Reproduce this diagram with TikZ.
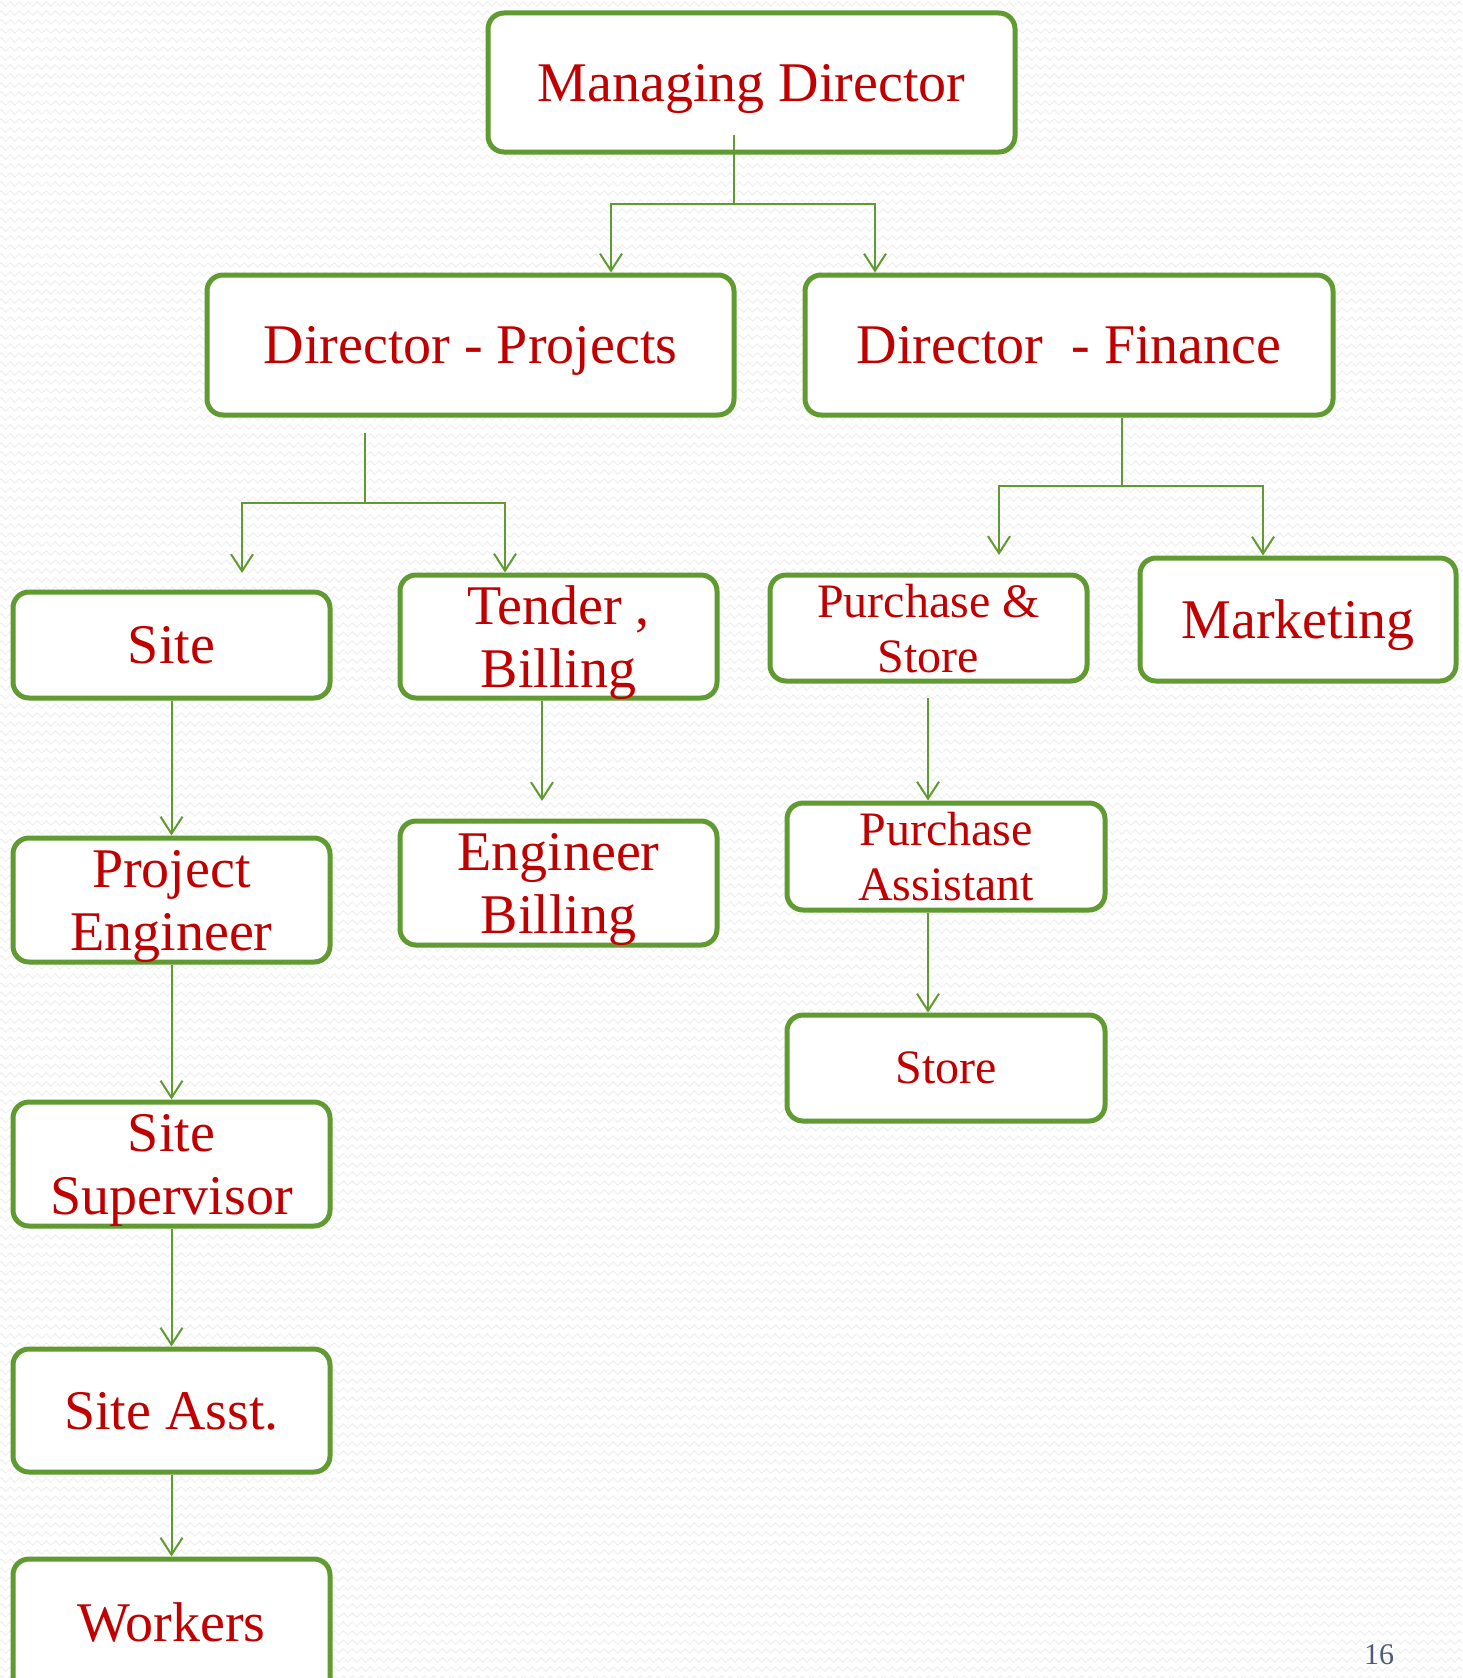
\documentclass[tikz,border=0pt]{standalone}
\usepackage{fontspec}
\setmainfont{Liberation Serif}
\usetikzlibrary{arrows.meta,decorations.pathmorphing,calc}
\definecolor{boxgreen}{HTML}{5F9B30}
\definecolor{txtred}{HTML}{C00000}
\definecolor{pgnum}{HTML}{4F5B73}
\definecolor{bgzig}{HTML}{EFEFEF}
\begin{document}
\begin{tikzpicture}[x=1pt,y=-1pt,
  box/.style={draw=boxgreen, line width=5pt, rounded corners=16pt, fill=white,
    text=txtred, align=center, inner sep=0pt, text depth=0pt},
  big/.style={font=\fontsize{56}{63}\selectfont},
  small/.style={font=\fontsize{48}{55}\selectfont},
  conn/.style={draw=boxgreen, line width=2pt},
  arr/.style={conn, -{Straight Barb[length=17pt,width=22pt,line width=2pt]}},
  bgline/.style={draw=bgzig, line width=1pt, decorate,
    decoration={zigzag, segment length=9pt, amplitude=2.2pt}}]
\useasboundingbox (0,0) rectangle (1462,1678);
\clip (0,0) rectangle (1462,1678);
\fill[white] (0,0) rectangle (1462,1678);
\foreach \yy in {4,13,...,1678} {
  \draw[bgline] (-10,\yy) -- (1472,\yy);
}

% boxes
\node[box, big, minimum width=527pt, minimum height=139pt] (md) at (751.5,82.5) {Managing Director};
\node[box, big, minimum width=527pt, minimum height=140pt] (dp) at (470.5,345) {Director - Projects};
\node[box, big, minimum width=528pt, minimum height=140pt] (df) at (1069,345) {Director\ \ - Finance};

\node[box, big, minimum width=317pt, minimum height=106pt] (site) at (171.5,645) {Site};
\node[box, big, minimum width=317pt, minimum height=123pt] (tender) at (558.5,636.5) {Tender ,\\Billing};
\node[box, small, minimum width=317pt, minimum height=106pt] (ps) at (928.5,628) {Purchase \&\\Store};
\node[box, big, minimum width=316pt, minimum height=123pt] (mkt) at (1298,619.5) {Marketing};

\node[box, big, minimum width=317pt, minimum height=124pt] (pe) at (171.5,900) {Project\\Engineer};
\node[box, big, minimum width=317pt, minimum height=124pt] (eb) at (558.5,883) {Engineer\\Billing};
\node[box, small, minimum width=318pt, minimum height=107pt] (pa) at (946,856.5) {Purchase\\Assistant};
\node[box, small, minimum width=318pt, minimum height=106pt] (store) at (946,1068) {Store};

\node[box, big, minimum width=317pt, minimum height=124pt] (ss) at (171.5,1164) {Site\\Supervisor};
\node[box, big, minimum width=317pt, minimum height=123pt] (sa) at (171.5,1410.5) {Site Asst.};
\node[box, minimum width=317pt, minimum height=151pt] (wk) at (171.5,1634.5) {};
\node[text=txtred, big, inner sep=0pt] (wkt) at (171.5,1622) {Workers};

\node[text=pgnum, font=\fontsize{30}{30}\selectfont, inner sep=0pt] (pg) at (1379,1655) {16};

% connectors: Managing Director
\coordinate (m0) at (734,135);
\coordinate (mj) at (734,204);
\draw[conn] (m0) -- (mj);
\draw[arr] (mj) -| ([xshift=140.5pt]dp.north);
\draw[arr] (mj) -| ([xshift=-194pt]df.north);

% Director - Projects
\coordinate (p0) at (365,433);
\coordinate (pj) at (365,503);
\coordinate (pl) at (242,573);
\draw[conn] (p0) -- (pj);
\draw[arr] (pj) -| (pl);
\draw[arr] (pj) -| ([xshift=-53.5pt]tender.north);

% Director - Finance
\coordinate (fj) at (1122,486);
\coordinate (fl) at (999,555);
\draw[conn] ([xshift=53pt]df.south) -- (fj);
\draw[arr] (fj) -| (fl);
\draw[arr] (fj) -| ([xshift=-35pt]mkt.north);

% Site column
\draw[arr] (site.south) -- (pe.north);
\draw[arr] (pe.south) -- (ss.north);
\draw[arr] (ss.south) -- (sa.north);
\draw[arr] (sa.south) -- (wk.north);

% Tender column
\coordinate (tb) at (542,801);
\draw[arr] ([xshift=-16.5pt]tender.south) -- (tb);

% Purchase column
\coordinate (s0) at (928,698);
\draw[arr] (s0) -- ([xshift=-18pt]pa.north);
\draw[arr] ([xshift=-18pt]pa.south) -- ([xshift=-18pt]store.north);
\end{tikzpicture}
\end{document}
